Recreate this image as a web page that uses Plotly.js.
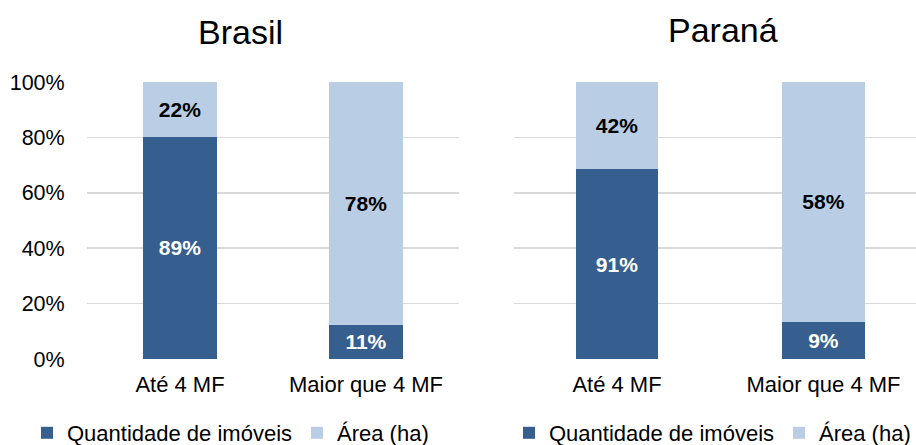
<!DOCTYPE html>
<html><head><meta charset="utf-8">
<script src="https://cdn.plot.ly/plotly-3.0.1.min.js"></script>
<style>html,body{margin:0;padding:0;background:#fff}#chart{width:916px;height:445px}</style>
</head><body><div id="chart"></div>
<script>
const categories = ['Até 4 MF', 'Maior que 4 MF'];
const brasilQuantidade = [89, 11];
const brasilArea = [22, 78];
const paranaQuantidade = [91, 9];
const paranaArea = [42, 58];
const seriesNames = ['Quantidade de imóveis', 'Área (ha)'];
const panelTitles = ['Brasil', 'Paraná'];
const yTicks = [0, 20, 40, 60, 80, 100];
const yTickText = yTicks.map(v => v + '%');

const dark = '#365f90', light = '#b9cde5';
const FONT = 'Liberation Sans, Arial, sans-serif';
const lbl = a => a.map(v => v + '%');

function bar(x, y, name, color, txtColor, xa, ya, leg) {
  return {type: 'bar', x: x, y: y, name: name, marker: {color: color, line: {width: 0}},
    text: lbl(y), textposition: 'inside', insidetextanchor: 'middle', texttemplate: '%{text}',
    textfont: {family: FONT, size: 21, color: txtColor, weight: 'bold'},
    constraintext: 'none', cliponaxis: false,
    xaxis: xa, yaxis: ya, legend: leg, hoverinfo: 'skip'};
}

const data = [
  bar(categories, brasilQuantidade, seriesNames[0], dark, '#ffffff', 'x', 'y', 'legend'),
  bar(categories, brasilArea, seriesNames[1], light, '#000000', 'x', 'y', 'legend'),
  bar(categories, paranaQuantidade, seriesNames[0], dark, '#ffffff', 'x2', 'y2', 'legend2'),
  bar(categories, paranaArea, seriesNames[1], light, '#000000', 'x2', 'y2', 'legend2')
];

const yDom = [(445 - 359) / 445, (445 - 82) / 445];
const xaxisBase = {type: 'category', showgrid: false, zeroline: false, showline: false,
  ticks: 'outside', ticklen: 6, tickcolor: 'rgba(0,0,0,0)',
  tickfont: {family: FONT, size: 22, color: '#000'}};
const yaxisBase = {range: [0, 100], tickmode: 'array', tickvals: yTicks, ticktext: yTickText, showgrid: true,
  gridcolor: '#d9d9d9', gridwidth: 1.7, zeroline: false, showline: false, domain: yDom,
  ticks: 'outside', ticklen: 17, tickcolor: 'rgba(0,0,0,0)',
  tickfont: {family: FONT, size: 21.5, color: '#000'}};
const legBase = {orientation: 'h', xanchor: 'left', yanchor: 'middle', y: (445 - 433) / 445,
  xref: 'paper', yref: 'paper',
  font: {family: FONT, size: 22, color: '#000'}, bgcolor: 'rgba(0,0,0,0)', traceorder: 'normal',
  itemwidth: 30, borderwidth: 0};

const layout = {
  width: 916, height: 445, margin: {l: 0, r: 0, t: 0, b: 0, autoexpand: false},
  paper_bgcolor: '#fff', plot_bgcolor: '#fff',
  barmode: 'stack', barnorm: 'percent', bargap: 0.6,
  showlegend: true,
  xaxis: Object.assign({}, xaxisBase, {domain: [87 / 916, 459 / 916], anchor: 'y'}),
  xaxis2: Object.assign({}, xaxisBase, {domain: [514 / 916, 1], anchor: 'y2', range: [-0.4988, 1.448]}),
  yaxis: Object.assign({}, yaxisBase, {anchor: 'x'}),
  yaxis2: Object.assign({}, yaxisBase, {anchor: 'x2', showticklabels: false}),
  legend: Object.assign({}, legBase, {x: 27 / 916}),
  legend2: Object.assign({}, legBase, {x: 509 / 916}),
  annotations: [
    {text: panelTitles[0], xref: 'paper', yref: 'paper', x: 240 / 916, y: (445 - 32) / 445,
     showarrow: false, xanchor: 'center', yanchor: 'middle', font: {family: FONT, size: 34, color: '#000'}},
    {text: panelTitles[1], xref: 'paper', yref: 'paper', x: 723 / 916, y: (445 - 30) / 445,
     showarrow: false, xanchor: 'center', yanchor: 'middle', font: {family: FONT, size: 34, color: '#000'}}
  ]
};

Plotly.newPlot('chart', data, layout, {staticPlot: true, displayModeBar: false});
</script></body></html>
